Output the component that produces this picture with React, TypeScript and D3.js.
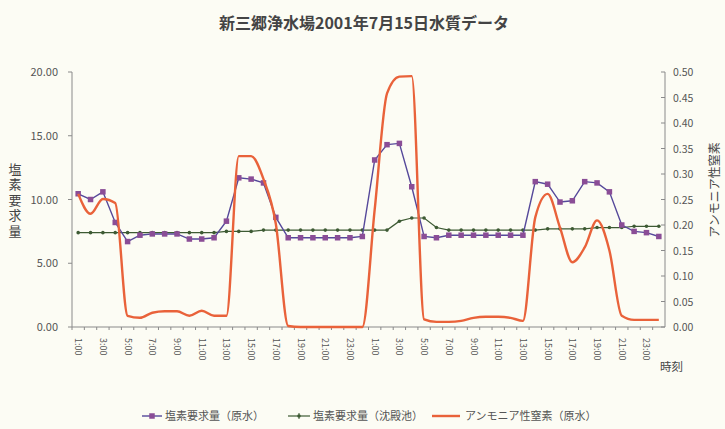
import React from "react";
import * as d3 from "d3";

const categories = [
  "1:00","2:00","3:00","4:00","5:00","6:00","7:00","8:00","9:00","10:00","11:00","12:00",
  "13:00","14:00","15:00","16:00","17:00","18:00","19:00","20:00","21:00","22:00","23:00","24:00",
  "1:00 ","2:00 ","3:00 ","4:00 ","5:00 ","6:00 ","7:00 ","8:00 ","9:00 ","10:00 ","11:00 ","12:00 ",
  "13:00 ","14:00 ","15:00 ","16:00 ","17:00 ","18:00 ","19:00 ","20:00 ","21:00 ","22:00 ","23:00 ","24:00 ",
];

const chlorineRaw = [
  10.45, 10.0, 10.6, 8.2, 6.7, 7.2, 7.3, 7.3, 7.3, 6.9, 6.9, 7.0,
  8.3, 11.7, 11.6, 11.3, 8.6, 7.0, 7.0, 7.0, 7.0, 7.0, 7.0, 7.1,
  13.1, 14.3, 14.4, 11.0, 7.1, 7.0, 7.2, 7.2, 7.2, 7.2, 7.2, 7.2,
  7.2, 11.4, 11.2, 9.8, 9.9, 11.4, 11.3, 10.6, 8.0, 7.5, 7.4, 7.1,
];

const chlorineSettled = [
  7.4, 7.4, 7.4, 7.4, 7.4, 7.4, 7.4, 7.4, 7.4, 7.4, 7.4, 7.4,
  7.5, 7.5, 7.5, 7.6, 7.6, 7.6, 7.6, 7.6, 7.6, 7.6, 7.6, 7.6,
  7.6, 7.6, 8.3, 8.55, 8.55, 7.8, 7.6, 7.6, 7.6, 7.6, 7.6, 7.6,
  7.6, 7.6, 7.7, 7.7, 7.7, 7.7, 7.8, 7.8, 7.8, 7.9, 7.9, 7.9,
];

const ammonia = [
  0.261, 0.222, 0.251, 0.243, 0.022, 0.018, 0.028, 0.031, 0.031, 0.022, 0.032, 0.022,
  0.022, 0.335, 0.335, 0.29, 0.202, 0.002, 0.0, 0.0, 0.0, 0.0, 0.0, 0.0,
  0.23, 0.458, 0.491, 0.492, 0.015, 0.01, 0.01, 0.012, 0.018, 0.02, 0.02, 0.018,
  0.012, 0.215, 0.261, 0.195, 0.127, 0.156, 0.209, 0.15, 0.022, 0.014, 0.014, 0.014,
];

const leftTicks = [0, 5, 10, 15, 20];
const rightTicks = [0, 0.05, 0.1, 0.15, 0.2, 0.25, 0.3, 0.35, 0.4, 0.45, 0.5];

const title = "新三郷浄水場2001年7月15日水質データ";
const leftTitle = "塩素要求量";
const rightTitle = "アンモニア性窒素";
const xTitle = "時刻";
const seriesNames = ["塩素要求量（原水）", "塩素要求量（沈殿池）", "アンモニア性窒素（原水）"];

const FONT = "'Noto Sans CJK JP', 'Noto Sans', sans-serif";

export default function App() {
  const L = 72, R = 665, T = 72, B = 327;
  const x = d3.scaleBand<string>().domain(categories).range([L, R]);
  const cx = (c: string) => (x(c) as number) + x.bandwidth() / 2;
  const yL = d3.scaleLinear().domain([0, 20]).range([B, T]);
  const yR = d3.scaleLinear().domain([0, 0.5]).range([B, T]);

  const lineL = d3.line<number>().x((_, i) => cx(categories[i])).y((d) => yL(d));
  const lineR = d3
    .line<number>()
    .x((_, i) => cx(categories[i]))
    .y((d) => yR(d))
    .curve(d3.curveMonotoneX);

  const purpleLine = "#55489a";
  const purpleMark = "#8a4d96";
  const green = "#3d5a33";
  const orange = "#e9623a";
  const axisCol = "#8a8a8a";
  const textCol = "#555";

  return (
    <svg
      width={725}
      height={429}
      style={{ position: "absolute", left: 0, top: 0, background: "#fcfcf4" }}
      fontFamily={FONT}
    >
      <rect x={0} y={0} width={725} height={429} fill="#fcfcf4" />
      <text x={364} y={29} textAnchor="middle" fontSize={16} fontWeight="bold" fill="#444">
        {title}
      </text>

      {/* axes */}
      <line x1={L} y1={T} x2={L} y2={B} stroke={axisCol} strokeWidth={1} />
      <line x1={R} y1={T} x2={R} y2={B} stroke={axisCol} strokeWidth={1} />
      <line x1={L} y1={B} x2={R} y2={B} stroke={axisCol} strokeWidth={1} />

      {leftTicks.map((t) => (
        <g key={"l" + t}>
          <line x1={L - 4} x2={L} y1={yL(t)} y2={yL(t)} stroke={axisCol} />
          <text x={58} y={yL(t) + 4} textAnchor="end" fontSize={11} fill={textCol}>
            {t.toFixed(2)}
          </text>
        </g>
      ))}
      {rightTicks.map((t) => (
        <g key={"r" + t}>
          <line x1={R - 4} x2={R} y1={yR(t)} y2={yR(t)} stroke={axisCol} />
          <text x={673} y={yR(t) + 4} textAnchor="start" fontSize={10.5} fill={textCol}>
            {t.toFixed(2)}
          </text>
        </g>
      ))}

      {categories.map((c, i) => (
        <line
          key={"xt" + i}
          x1={x(c) as number}
          x2={x(c) as number}
          y1={B}
          y2={B + 3}
          stroke={axisCol}
        />
      ))}
      {categories.map((c, i) =>
        i % 2 === 0 ? (
          <text
            key={"xl" + i}
            transform={`translate(${cx(c) - 3},338) rotate(90)`}
            textAnchor="start"
            fontSize={9}
            fill={textCol}
          >
            {c.trim()}
          </text>
        ) : null
      )}

      {/* axis titles */}
      <text
        x={15}
        y={201}
        textAnchor="middle"
        fontSize={13}
        letterSpacing={2.5}
        fill="#444"
        style={{ writingMode: "vertical-rl" }}
      >
        {leftTitle}
      </text>
      <text
        transform="translate(716,190) rotate(-90)"
        textAnchor="middle"
        dominantBaseline="middle"
        fontSize={12}
        fill="#444"
      >
        {rightTitle}
      </text>
      <text x={660} y={371} fontSize={11.5} fill="#444">
        {xTitle}
      </text>

      {/* series */}
      <path d={lineL(chlorineSettled) || ""} fill="none" stroke={green} strokeWidth={1.2} />
      {chlorineSettled.map((v, i) => (
        <circle key={"g" + i} cx={cx(categories[i])} cy={yL(v)} r={1.8} fill={green} />
      ))}
      <path d={lineL(chlorineRaw) || ""} fill="none" stroke={purpleLine} strokeWidth={1.4} />
      {chlorineRaw.map((v, i) => (
        <rect
          key={"p" + i}
          x={cx(categories[i]) - 2.75}
          y={yL(v) - 2.75}
          width={5.5}
          height={5.5}
          fill={purpleMark}
        />
      ))}
      <path d={lineR(ammonia) || ""} fill="none" stroke={orange} strokeWidth={2.4} />

      {/* legend */}
      <g fontSize={11} fill="#555">
        <line x1={142} x2={162} y1={416} y2={416} stroke={purpleLine} strokeWidth={1.4} />
        <rect x={149.25} y={413.25} width={5.5} height={5.5} fill={purpleMark} />
        <text x={165} y={420}>{seriesNames[0]}</text>

        <line x1={288} x2={310} y1={416} y2={416} stroke={green} strokeWidth={1.2} />
        <circle cx={299} cy={416} r={1.8} fill={green} />
        <line x1={299} x2={299} y1={413} y2={419} stroke={green} strokeWidth={1} />
        <text x={313} y={420}>{seriesNames[1]}</text>

        <line x1={432} x2={460} y1={416} y2={416} stroke={orange} strokeWidth={2.4} />
        <text x={465} y={420}>{seriesNames[2]}</text>
      </g>
    </svg>
  );
}
